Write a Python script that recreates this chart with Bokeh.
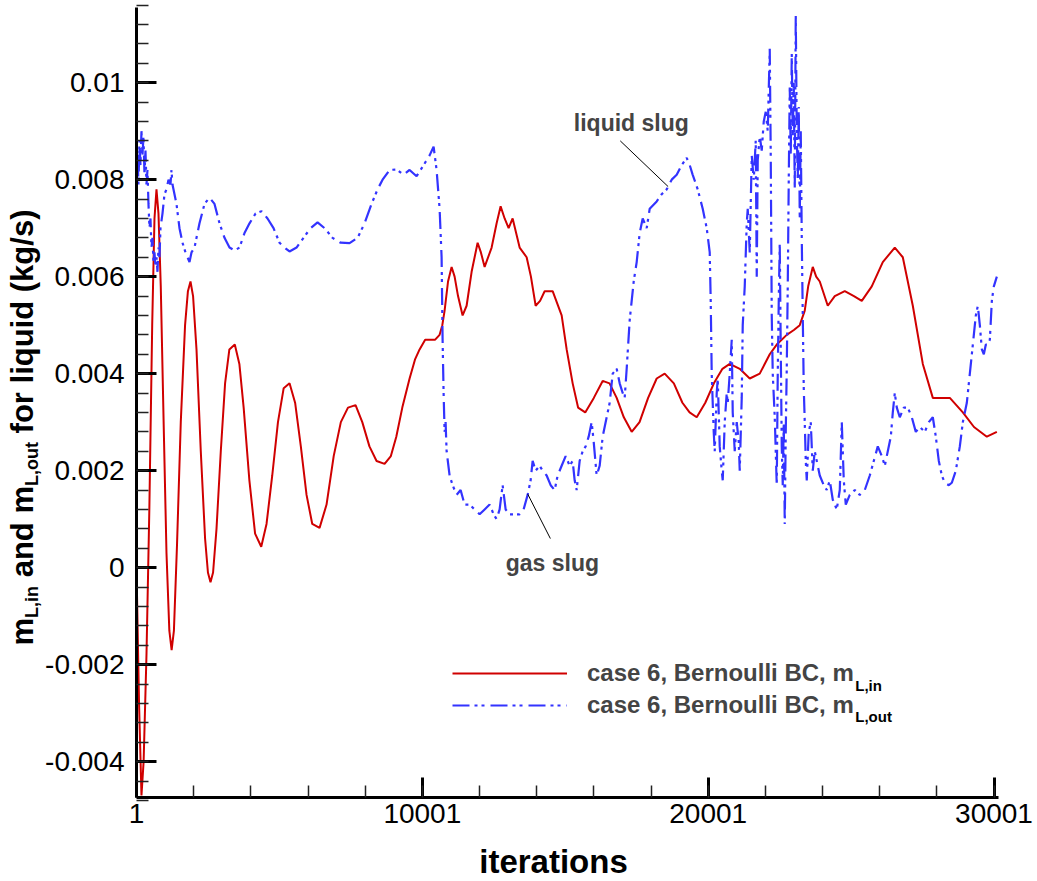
import numpy as np
from bokeh.plotting import figure
from bokeh.models import (FixedTicker, Label, Legend, LegendItem, Range1d,
                          LinearAxis, Arrow)
from bokeh.embed import file_html
from bokeh.resources import INLINE

# ---------------- data ----------------
red_iterations = [1, 90, 175, 250, 350, 450, 550, 630, 700, 770, 850, 950, 1050, 1150, 1230,
                  1310, 1420, 1550, 1700, 1800, 1890, 1980, 2100, 2250, 2400, 2500, 2590,
                  2680, 2800, 2950, 3100, 3250, 3440, 3600, 3750, 3950, 4150, 4365, 4550,
                  4750, 4950, 5150, 5355, 5550, 5750, 5950, 6150, 6405, 6650, 6900, 7150,
                  7400, 7665, 7900, 8150, 8400, 8680, 8900, 9090, 9300, 9555, 9750, 9905,
                  10100, 10255, 10450, 10605, 10700, 10780, 10900, 11025, 11130, 11250,
                  11410, 11550, 11725, 11935, 12050, 12180, 12425, 12600, 12740, 12880,
                  13020, 13160, 13405, 13650, 13800, 13965, 14120, 14280, 14560, 14875,
                  15050, 15260, 15450, 15700, 16000, 16310, 16550, 16800, 17050, 17325,
                  17600, 17900, 18200, 18480, 18800, 19100, 19350, 19600, 19900, 20200,
                  20500, 20755, 21105, 21455, 21805, 22155, 22400, 22750, 23000, 23205,
                  23380, 23500, 23660, 23780, 23905, 24185, 24430, 24780, 25100, 25375,
                  25725, 26110, 26530, 26810, 27160, 27510, 27860, 28150, 28455, 28910,
                  29300, 29750, 30100]
red_flow = [0.0000, -0.0028, -0.0047, -0.0040, -0.0018, 0.0012, 0.0050, 0.0072, 0.0078,
            0.0073, 0.0058, 0.0030, 0.0003, -0.0013, -0.0017, -0.0013, 0.0005, 0.0030,
            0.0050, 0.0057, 0.0059, 0.0056, 0.0045, 0.0024, 0.0006, -0.0001, -0.0003,
            -0.0001, 0.0008, 0.0024, 0.0038, 0.0045, 0.0046, 0.0042, 0.0033, 0.0018,
            0.0007, 0.00043, 0.0009, 0.0019, 0.0030, 0.0037, 0.0038, 0.0034, 0.0025,
            0.0015, 0.0009, 0.00082, 0.0013, 0.0023, 0.0030, 0.0033, 0.00335, 0.0030,
            0.0025, 0.0022, 0.00214, 0.0023, 0.0027, 0.0033, 0.0039, 0.0043, 0.0045,
            0.0047, 0.0047, 0.0047, 0.0048, 0.0050, 0.0053, 0.0059, 0.0062, 0.0060,
            0.0056, 0.0052, 0.0054, 0.0061, 0.0067, 0.0065, 0.0062, 0.0066, 0.0071,
            0.00745, 0.0072, 0.0070, 0.0072, 0.0066, 0.0064, 0.0060, 0.0054, 0.0055,
            0.0057, 0.0057, 0.0052, 0.0045, 0.0038, 0.0033, 0.0032, 0.0035, 0.00385,
            0.0038, 0.0035, 0.0031, 0.0028, 0.0030, 0.0035, 0.0039, 0.0040, 0.0038,
            0.0034, 0.0032, 0.0031, 0.0034, 0.0038, 0.0041, 0.0042, 0.0041, 0.0039,
            0.0040, 0.0044, 0.0046, 0.0048, 0.0049, 0.0050, 0.0053, 0.0058, 0.0062,
            0.0060, 0.0059, 0.0054, 0.0056, 0.0057, 0.0056, 0.0055, 0.0058, 0.0063,
            0.0066, 0.0064, 0.0054, 0.0042, 0.0035, 0.0035, 0.0035, 0.0032, 0.0029,
            0.0027, 0.0028]

blue_iterations = [1, 35, 70, 105, 140, 175, 210, 245, 280, 315, 350, 385, 420, 455, 490,
                   525, 560, 595, 630, 665, 700, 735, 770, 805, 840, 910, 980, 1050, 1120,
                   1190, 1225, 1260, 1330, 1400, 1505, 1610, 1715, 1785, 1855, 1925, 2030,
                   2205, 2380, 2555, 2730, 2905, 3080, 3255, 3430, 3605, 3780, 3955, 4165,
                   4375, 4585, 4795, 5005, 5180, 5355, 5600, 5845, 6090, 6335, 6580, 6860,
                   7140, 7455, 7735, 7980, 8225, 8435, 8610, 8855, 9100, 9345, 9555, 9800,
                   10045, 10255, 10395, 10500, 10605, 10675, 10710, 10745, 10780, 10815,
                   10850, 10955, 11060, 11200, 11340, 11480, 11655, 11830, 12005, 12180,
                   12355, 12495, 12600, 12705, 12810, 12915, 13055, 13230, 13405, 13545,
                   13685, 13790, 13860, 13965, 14105, 14210, 14350, 14490, 14630, 14735,
                   14875, 15015, 15155, 15260, 15330, 15400, 15505, 15610, 15715, 15820,
                   15925, 15995, 16100, 16205, 16310, 16450, 16555, 16660, 16800, 16905,
                   17010, 17080, 17150, 17255, 17395, 17500, 17605, 17710, 17850, 17955,
                   18200, 18375, 18550, 18725, 18900, 19075, 19250, 19355, 19460, 19635,
                   19810, 19950, 20055, 20090, 20125, 20195, 20230, 20300, 20335, 20405,
                   20475, 20510, 20580, 20650, 20685, 20755, 20825, 20860, 20930, 21000,
                   21070, 21105, 21175, 21210, 21280, 21350, 21385, 21455, 21525, 21595,
                   21665, 21700, 21735, 21805, 21875, 21945, 22015, 22085, 22155, 22190,
                   22225, 22260, 22330, 22400, 22435, 22470, 22505, 22540, 22575, 22610,
                   22645, 22680, 22715, 22750, 22785, 22820, 22855, 22890, 22925, 22960,
                   22995, 23030, 23065, 23100, 23135, 23170, 23205, 23240, 23275, 23310,
                   23345, 23380, 23415, 23450, 23520, 23590, 23660, 23730, 23800, 23905,
                   24045, 24150, 24255, 24360, 24500, 24605, 24675, 24745, 24815, 24955,
                   25130, 25305, 25480, 25655, 25795, 25935, 26075, 26180, 26285, 26390,
                   26460, 26530, 26600, 26705, 26845, 26985, 27125, 27265, 27405, 27580,
                   27720, 27860, 27965, 28070, 28175, 28280, 28420, 28525, 28665, 28805,
                   28910, 29050, 29155, 29260, 29365, 29435, 29505, 29575, 29645, 29715,
                   29785, 29855, 29925, 29995, 30100]
blue_flow = [0.0080, 0.0086, 0.0079, 0.0088, 0.0083, 0.0090, 0.0085, 0.0089, 0.0081, 0.0086,
             0.0079, 0.0082, 0.0075, 0.0070, 0.0072, 0.0066, 0.0068, 0.0063, 0.0065, 0.0062,
             0.0064, 0.0061, 0.0066, 0.0064, 0.0070, 0.0073, 0.0077, 0.0078, 0.0080, 0.0079,
             0.0082, 0.0079, 0.0077, 0.0075, 0.0070, 0.0067, 0.0065, 0.0064, 0.0063, 0.0065,
             0.0066, 0.0071, 0.0075, 0.00763, 0.0075, 0.0071, 0.0068, 0.0066, 0.00654, 0.0066,
             0.0069, 0.0071, 0.0073, 0.00735, 0.0072, 0.0070, 0.0067, 0.0066, 0.00652, 0.0066,
             0.0068, 0.0070, 0.00712, 0.0070, 0.0068, 0.0067, 0.00669, 0.0068, 0.0071, 0.0075,
             0.0078, 0.0080, 0.0082, 0.00821, 0.0081, 0.0082, 0.00807, 0.0083, 0.0085, 0.00868,
             0.0082, 0.0074, 0.0064, 0.0047, 0.0036, 0.0028, 0.0030, 0.0024, 0.0019, 0.0017,
             0.0015, 0.0016, 0.0013, 0.0013, 0.0012, 0.0011, 0.0012, 0.0013, 0.0011, 0.0010,
             0.0012, 0.0017, 0.0012, 0.0011, 0.0011, 0.0011, 0.0012, 0.0015, 0.0018, 0.0022,
             0.0020, 0.0021, 0.0020, 0.0019, 0.0017, 0.0016, 0.0019, 0.0021, 0.0023, 0.0021,
             0.0022, 0.0018, 0.0016, 0.0022, 0.0024, 0.0025, 0.0027, 0.0030, 0.0026, 0.0019,
             0.0021, 0.0027, 0.0031, 0.0034, 0.0040, 0.0041, 0.0038, 0.0036, 0.0035, 0.0041,
             0.0051, 0.0059, 0.0063, 0.0069, 0.0072, 0.0070, 0.0074, 0.00755, 0.0077, 0.0078,
             0.0080, 0.0081, 0.0083, 0.00845, 0.0083, 0.0081, 0.0078, 0.0074, 0.0070, 0.0065,
             0.0055, 0.0040, 0.0028, 0.0024, 0.0036, 0.0039, 0.0025, 0.0020, 0.0018, 0.0030,
             0.0036, 0.0034, 0.0040, 0.0047, 0.0032, 0.0024, 0.0030, 0.0026, 0.0020, 0.0035,
             0.0050, 0.0058, 0.0071, 0.0074, 0.0065, 0.0085, 0.0080, 0.0088, 0.0060, 0.0084,
             0.0089, 0.0086, 0.0092, 0.0094, 0.0090, 0.0107, 0.0085, 0.0052, 0.0040, 0.0031,
             0.0017, 0.0040, 0.0055, 0.0067, 0.0045, 0.0025, 0.0017, 0.0030, 0.0009, 0.0028,
             0.0041, 0.0058, 0.0080, 0.0099, 0.0085, 0.0106, 0.0089, 0.0100, 0.0078, 0.0114,
             0.0090, 0.0080, 0.0095, 0.0072, 0.0090, 0.0068, 0.0052, 0.0037, 0.0030, 0.0022,
             0.0018, 0.0028, 0.0030, 0.0020, 0.0024, 0.0022, 0.0019, 0.0017, 0.0016, 0.0018,
             0.0014, 0.0012, 0.0016, 0.0030, 0.0018, 0.0013, 0.0015, 0.0016, 0.0015, 0.0016,
             0.0019, 0.0022, 0.0025, 0.0023, 0.0021, 0.0024, 0.0027, 0.0032, 0.0036, 0.0033,
             0.0031, 0.0033, 0.0033, 0.0031, 0.0028, 0.0029, 0.0028, 0.0030, 0.0031, 0.0027,
             0.0022, 0.0019, 0.00175, 0.0017, 0.00175, 0.0020, 0.0025, 0.0030, 0.0034, 0.0040,
             0.0046, 0.0052, 0.0054, 0.0050, 0.0045, 0.0044, 0.0046, 0.0046, 0.0047, 0.0055,
             0.0058, 0.0060]

x_ticks = [1, 10001, 20001, 30001]
x_tick_labels = ["1", "10001", "20001", "30001"]
y_ticks = [-0.004, -0.002, 0.0, 0.002, 0.004, 0.006, 0.008, 0.01]
y_tick_labels = ["-0.004", "-0.002", "0", "0.002", "0.004", "0.006", "0.008", "0.01"]

series_labels = ["case 6, Bernoulli BC, m", "case 6, Bernoulli BC, m"]
series_subscripts = ["L,in", "L,out"]

# ---------------- layout constants ----------------
FONT = "Liberation Sans"
RED = "#d00000"
BLUE = "#3333ff"
W_PX, H_PX = 1037, 881
F_LEFT, F_RIGHT, F_TOP, F_BOTTOM = 136, 998, 7, 797   # visible axes box in pixels
X_LO, X_HI = 1, 30158
Y_LO, Y_HI = -0.00474, 0.01155

kx = (X_HI - X_LO) / (F_RIGHT - F_LEFT)
ky = (Y_HI - Y_LO) / (F_BOTTOM - F_TOP)
x_range = Range1d(X_LO - F_LEFT * kx, X_HI + (W_PX - F_RIGHT) * kx)
y_range = Range1d(Y_LO - (H_PX - F_BOTTOM) * ky, Y_HI + F_TOP * ky)

p = figure(width=W_PX, height=H_PX, output_backend="svg", toolbar_location=None,
           x_range=x_range, y_range=y_range, x_axis_type=None, y_axis_type=None,
           min_border=0, min_border_left=0, min_border_right=0, min_border_top=0,
           min_border_bottom=0)
p.outline_line_color = None
p.background_fill_color = "white"
p.border_fill_color = "white"
p.grid.visible = False

x_minor = list(range(1, 30002, 2000))
y_minor = [round(-0.0048 + 0.0004 * k, 6) for k in range(42)]

def style_axis(ax):
    ax.axis_line_width = 3
    ax.axis_line_color = "black"
    ax.major_tick_in = 20
    ax.major_tick_out = 0
    ax.major_tick_line_width = 3
    ax.major_tick_line_color = "black"
    ax.minor_tick_in = 12
    ax.minor_tick_out = 0
    ax.minor_tick_line_width = 1.5
    ax.minor_tick_line_color = "#222222"
    ax.major_label_text_font = FONT
    ax.major_label_text_font_size = "28px"
    ax.major_label_text_color = "black"

xaxis = LinearAxis(ticker=FixedTicker(ticks=x_ticks, minor_ticks=x_minor),
                   major_label_overrides=dict(zip(x_ticks, x_tick_labels)),
                   fixed_location=Y_LO, bounds=(X_LO, X_HI))
style_axis(xaxis)
xaxis.major_label_standoff = 6
p.add_layout(xaxis, "below")

yaxis = LinearAxis(ticker=FixedTicker(ticks=y_ticks, minor_ticks=y_minor),
                   major_label_overrides=dict(zip(y_ticks, y_tick_labels)),
                   fixed_location=X_LO, bounds=(Y_LO, Y_HI))
style_axis(yaxis)
yaxis.major_label_standoff = 12
p.add_layout(yaxis, "left")

r_in = p.line(red_iterations, red_flow, line_color=RED, line_width=2)
r_out = p.line(blue_iterations, blue_flow, line_color=BLUE, line_width=2.2,
               line_dash="17 5 3 4 3 6")

# legend: sample lines at x 452..567, rows centred at y 673 and 705 (canvas px)
legend = Legend(items=[LegendItem(label=series_labels[0], renderers=[r_in]),
                       LegendItem(label=series_labels[1], renderers=[r_out])],
                location=(452, H_PX - 721), glyph_width=115, glyph_height=32,
                label_height=32, label_standoff=20, spacing=0, padding=0, margin=0,
                border_line_color=None, background_fill_alpha=0,
                label_text_font=FONT, label_text_font_size="24px",
                label_text_font_style="bold")
p.add_layout(legend, "center")

# --------- text helpers (Arial/Liberation Sans Bold advance widths) ---------
W = {' ': 278, 'a': 556, 'c': 556, 'd': 611, 'e': 556, 'f': 333, 'g': 611, 'i': 278,
     'k': 556, 'l': 278, 'm': 889, 'n': 611, 'o': 611, 'q': 611, 'r': 389, 's': 556,
     't': 333, 'u': 611, 'B': 722, 'C': 722, 'L': 611, ',': 278, '(': 333, ')': 333,
     '/': 278, '6': 556}

def tw(s, size):
    return sum(W.get(c, 556) for c in s) * size / 1000.0

def add_label(cx, cy, text, size, angle=0, align="left"):
    """cx, cy in canvas pixels from the top-left corner (anchor point)."""
    p.add_layout(Label(x=cx, y=H_PX - cy, x_units="screen", y_units="screen", text=text,
                       text_font=FONT, text_font_size=f"{size}px", text_font_style="bold",
                       text_color="black", angle=angle, angle_units="deg",
                       text_align=align, text_baseline="alphabetic"))

# legend subscripts
for i, sub in enumerate(series_subscripts):
    sx = 452 + 115 + 20 + tw(series_labels[i], 24) + 1
    add_label(sx, [685, 716][i], sub, 15)

# x title
add_label(553, 861, "iterations", 33, align="center")

# y title (rotated, composed with subscripts)
pieces = [("m", 31, 0), ("L,in", 18, 9), (" and ", 31, 0), ("m", 31, 0),
          ("L,out", 18, 9), (" for liquid (kg/s)", 31, 0)]
pos = 645
for text, size, drop in pieces:
    lead = len(text) - len(text.lstrip(" "))
    base = 22 if size == 31 else 22
    add_label(base + drop, pos - tw(" " * lead, size), text.strip(" "), size, angle=90)
    pos -= tw(text, size)

# annotations (data units)
def blue_at(it):
    return float(np.interp(it, blue_iterations, blue_flow))

liq_target = 18600
p.add_layout(Arrow(end=None, x_start=16925, y_start=0.0088, x_end=liq_target,
                   y_end=blue_at(liq_target), line_color="black", line_width=1))
p.add_layout(Label(x=15300, y=0.00917, text="liquid slug", text_font=FONT,
                   text_font_size="23px", text_font_style="bold", text_align="left",
                   text_baseline="alphabetic"))

gas_target = 13690
p.add_layout(Arrow(end=None, x_start=14480, y_start=0.0006, x_end=gas_target,
                   y_end=blue_at(gas_target), line_color="black", line_width=1))
p.add_layout(Label(x=14550, y=0.0001, text="gas slug", text_font=FONT,
                   text_font_size="23px", text_font_style="bold", text_align="center",
                   text_baseline="alphabetic"))

open("out.html", "w").write(file_html(p, INLINE))
